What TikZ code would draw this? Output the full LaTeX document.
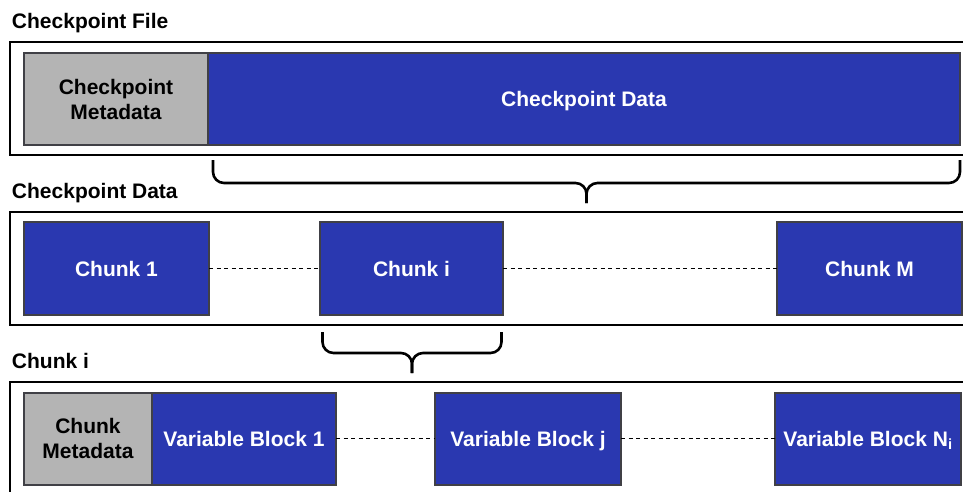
\documentclass[tikz,border=0pt]{standalone}
\usepackage{fontspec}
\setmainfont{Liberation Sans}
\definecolor{blockblue}{RGB}{42,56,176}
\definecolor{metagray}{RGB}{180,180,180}
\definecolor{edgegray}{RGB}{64,64,70}
\begin{document}
\begin{tikzpicture}[x=1pt,y=-1pt,
  every node/.style={font=\fontsize{21}{25}\selectfont\bfseries, inner sep=0pt, outer sep=0pt},
  frame/.style={draw=black, line width=2.6pt},
  blk/.style={draw=edgegray, line width=2pt, fill=blockblue, text=white, align=center, anchor=north west, text depth=0pt},
  meta/.style={draw=edgegray, line width=2pt, fill=metagray, text=black, align=center, anchor=north west},
  heading/.style={anchor=base west, text=black},
  gap/.style={dashed, dash pattern=on 4pt off 3.5pt, line width=1.1pt, black},
  bracepath/.style={draw=black, line width=2.6pt, rounded corners=11pt}
]
\useasboundingbox (0,0) rectangle (963,491);
\clip (0,0) rectangle (963,491);

% ---- checkpoint file ----
\node[heading] (hfile) at (12,28) {Checkpoint File};
\draw[frame] (10,42) rectangle (980,155);
\node[meta, minimum width=184pt, minimum height=92pt] (cmeta) at (24,53) {Checkpoint\\Metadata};
\node[blk, minimum width=752pt, minimum height=92pt] (cdata) at (208,53) {Checkpoint Data};

% brace over the data part
\coordinate (b1l) at (213,160);
\coordinate (b1r) at (960,160);
\coordinate (b1m) at (586.5,183);
\coordinate (b1t) at (586.5,203);
\draw[bracepath] (b1l) -- (b1l |- b1m) -- (b1m) -- (b1t);
\draw[bracepath] (b1r) -- (b1r |- b1m) -- (b1m) -- (b1t);

% ---- checkpoint data ----
\node[heading] (hdata) at (12,198) {Checkpoint Data};
\draw[frame] (10,212) rectangle (980,325);
\node[blk, minimum width=185pt, minimum height=93pt] (ch1) at (24,222) {Chunk 1};
\node[blk, minimum width=183pt, minimum height=93pt] (chi) at (320,222) {Chunk i};
\node[blk, minimum width=185pt, minimum height=93pt] (chm) at (777,222) {Chunk M};
\draw[gap] (ch1.east) -- (chi.west);
\draw[gap] (chi.east) -- (chm.west);

% brace under chunk i
\coordinate (b2l) at (322.5,332);
\coordinate (b2r) at (501.5,332);
\coordinate (b2m) at (412,353);
\coordinate (b2t) at (412,373);
\draw[bracepath] (b2l) -- (b2l |- b2m) -- (b2m) -- (b2t);
\draw[bracepath] (b2r) -- (b2r |- b2m) -- (b2m) -- (b2t);

% ---- chunk i ----
\node[heading] (hchunk) at (12,368) {Chunk i};
\draw[frame] (10,382) rectangle (980,520);
\node[meta, minimum width=128pt, minimum height=92pt] (kmeta) at (24,392.5) {Chunk\\Metadata};
\node[blk, minimum width=184pt, minimum height=92pt] (vb1) at (152,392.5) {Variable Block 1};
\node[blk, minimum width=186pt, minimum height=92pt] (vbj) at (435,392.5) {Variable Block j};
\node[blk, minimum width=186pt, minimum height=92pt] (vbn) at (775,392.5) {Variable Block N\textsubscript{i}};
\draw[gap] (vb1.east) -- (vbj.west);
\draw[gap] (vbj.east) -- (vbn.west);
\end{tikzpicture}
\end{document}
